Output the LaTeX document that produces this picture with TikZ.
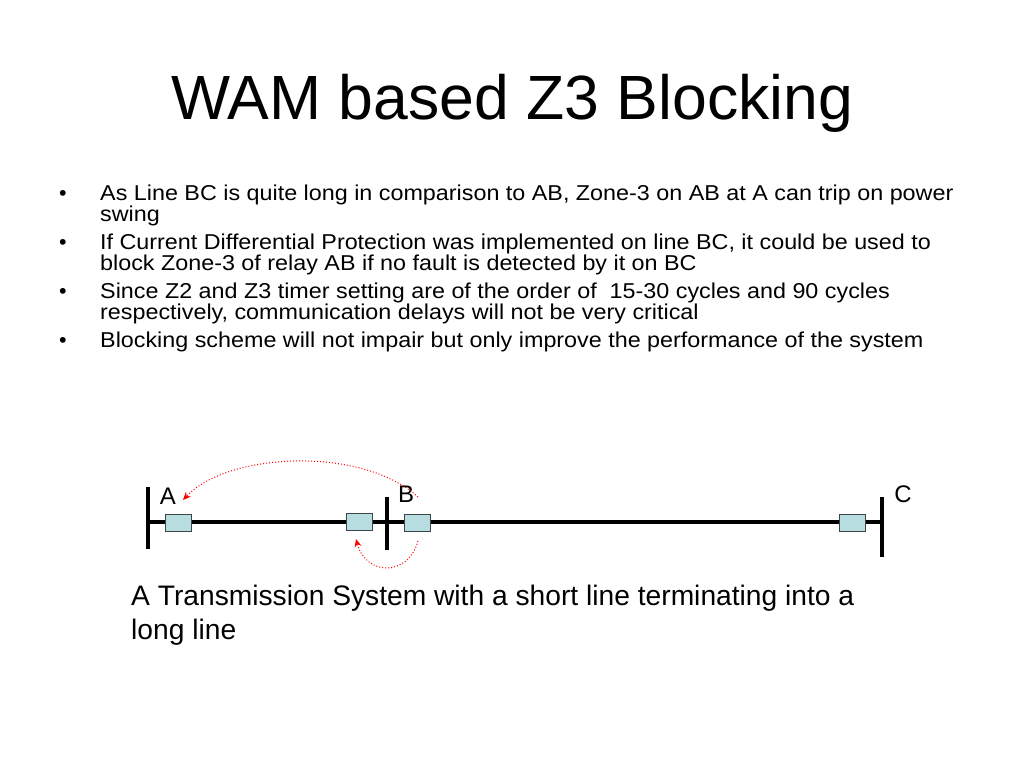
\documentclass[tikz,border=0pt]{standalone}
\usepackage{fontspec}
\setmainfont{Liberation Sans}
\newfontfamily\bulletfont[FakeStretch=1.085]{Liberation Sans}
\usetikzlibrary{arrows.meta}
\definecolor{relayfill}{RGB}{183,221,224}
\definecolor{relayedge}{RGB}{60,70,70}
\tikzset{
  txt/.style={inner sep=0pt, anchor=base west},
  bul/.style={txt, font=\bulletfont\fontsize{21.5}{21.5}\selectfont},
  dotmark/.style={txt, font=\fontsize{21.5}{21.5}\selectfont},
  captext/.style={txt, font=\fontsize{28.2}{28.2}\selectfont},
  busbar/.style={line width=3.6pt, black},
  mainline/.style={line width=3.2pt, black},
  relay/.style={draw=relayedge, fill=relayfill, line width=0.9pt, minimum width=26pt, minimum height=17pt, inner sep=0pt},
  sig/.style={red, dotted, line width=1pt, -{Stealth[length=8pt,width=7pt]}},
  lbl/.style={inner sep=0pt, anchor=base, font=\fontsize{24}{24}\selectfont}
}
\begin{document}
\begin{tikzpicture}[x=1pt,y=-1pt]
\path[use as bounding box, fill=white] (0,0) rectangle (1024,768);
% title
\node[inner sep=0pt, anchor=base, font=\fontsize{62.5}{62.5}\selectfont] (title) at (512,119) {WAM based Z3 Blocking};
% bullets
\node[dotmark] (b1) at (59,200) {•};
\node[bul] (t1a) at (100,200) {As Line BC is quite long in comparison to AB, Zone-3 on AB at A can trip on power};
\node[bul] (t1b) at (100,221) {swing};
\node[dotmark] (b2) at (59,249) {•};
\node[bul] (t2a) at (100,249) {If Current Differential Protection was implemented on line BC, it could be used to};
\node[bul] (t2b) at (100,270) {block Zone-3 of relay AB if no fault is detected by it on BC};
\node[dotmark] (b3) at (59,298) {•};
\node[bul] (t3a) at (100,298) {Since Z2 and Z3 timer setting are of the order of~ 15-30 cycles and 90 cycles};
\node[bul] (t3b) at (100,319) {respectively, communication delays will not be very critical};
\node[dotmark] (b4) at (59,347) {•};
\node[bul] (t4) at (100,347) {Blocking scheme will not impair but only improve the performance of the system};
% system
\coordinate (Atop) at (148,487);
\coordinate (Abot) at (148,549);
\coordinate (Btop) at (387,497);
\coordinate (Bbot) at (387,550);
\coordinate (Ctop) at (882,497);
\coordinate (Cbot) at (882,557);
\coordinate (Lstart) at (148,522);
\coordinate (Lend) at (882,522);
\draw[mainline] (Lstart) -- (Lend);
\draw[busbar] (Atop) -- (Abot);
\draw[busbar] (Btop) -- (Bbot);
\draw[busbar] (Ctop) -- (Cbot);
\node[relay] (rA) at (178,522.5) {};
\node[relay] (rB1) at (359,522) {};
\node[relay] (rB2) at (417,522.5) {};
\node[relay] (rC) at (852,523) {};
\node[lbl] (lA) at (168,504) {A};
\node[lbl] (lB) at (406,502) {B};
\node[lbl] (lC) at (903,502) {C};
% signals
\coordinate (s1) at (418,497);
\coordinate (e1) at (183,500);
\coordinate (s2) at (418,541);
\coordinate (e2) at (356,539);
\draw[sig] (s1) .. controls (362,446) and (228,452) .. (e1);
\draw[sig] (s2) .. controls (408,577) and (366,576) .. (e2);
% caption
\node[captext] (capa) at (131,605) {A Transmission System with a short line terminating into a};
\node[captext] (capb) at (131,639) {long line};
\end{tikzpicture}
\end{document}
